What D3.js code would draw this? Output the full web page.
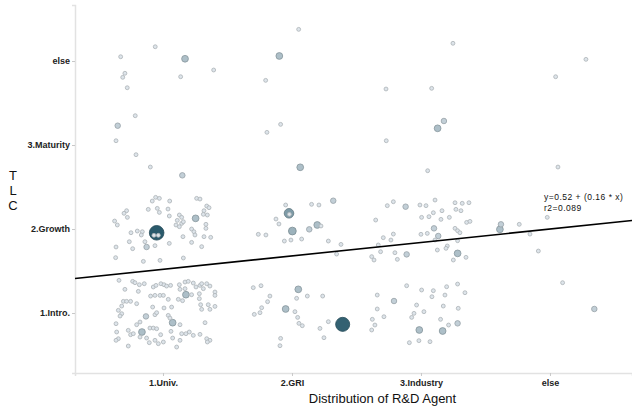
<!DOCTYPE html>
<html>
<head>
<meta charset="utf-8">
<script src="https://cdn.jsdelivr.net/npm/d3@7"></script>
<style>
body { margin: 0; background: #fff; }
svg text { font-family: "Liberation Sans", Arial, sans-serif; }
.tick text { font-size: 9px; font-weight: bold; fill: #222; }
.tick line { stroke: #c8c8c8; }
.domain { stroke: #e2e2e2; stroke-width: 1.5; }
</style>
</head>
<body>
<svg id="chart" width="632" height="410"></svg>
<script>
'use strict';

const xCategories = ["1.Univ.", "2.GRI", "3.Industry", "else"];
const yCategories = ["1.Intro.", "2.Growth", "3.Maturity", "else"];

// [yIndex, x jitter, y jitter, count]
const univPoints = [
	[0,-0.341,0.389,1],[0,-0.235,0.377,1],[0,-0.217,0.361,1],[0,-0.183,0.337,1],[0,-0.145,0.349,1],
	[0,-0.075,0.310,1],[0,-0.054,0.329,1],[0,-0.016,0.349,1],[0,0.008,0.337,1],[0,0.028,0.321,1],
	[0,0.059,0.329,1],[0,0.127,0.337,1],[0,0.171,0.369,1],[0,0.196,0.377,1],[0,0.235,0.357,1],
	[0,0.256,0.310,1],[0,0.287,0.329,1],[0,0.300,0.349,1],[0,0.339,0.349,1],[0,0.364,0.321,1],
	[0,-0.295,0.282,1],[0,-0.191,0.258,1],[0,-0.096,0.202,1],[0,-0.062,0.210,1],[0,-0.023,0.210,1],
	[0,0.003,0.210,1],[0,0.178,0.218,3],[0,0.222,0.218,1],[0,0.132,0.282,1],[0,0.171,0.290,1],
	[0,0.282,0.230,1],[0,0.313,0.290,1],[0,0.403,0.250,1],[0,0.403,0.210,1],[0,0.041,0.163,1],
	[0,0.119,0.163,1],[0,0.152,0.147,1],[0,0.282,0.171,1],[0,-0.307,0.139,1],[0,-0.282,0.139,1],
	[0,-0.251,0.139,1],[0,-0.204,0.111,1],[0,-0.320,0.083,1],[0,-0.346,0.032,1],[0,-0.080,0.071,1],
	[0,0.008,0.060,1],[0,0.067,0.071,1],[0,0.292,0.099,1],[0,0.351,0.099,1],[0,0.403,0.079,1],
	[0,0.300,0.044,1],[0,0.364,0.044,1],[0,-0.320,-0.008,1],[0,-0.333,-0.036,1],[0,-0.132,-0.040,2],
	[0,-0.062,-0.020,1],[0,-0.049,0.004,1],[0,0.041,-0.028,1],[0,0.054,-0.060,1],[0,-0.364,-0.127,1],
	[0,-0.204,-0.139,1],[0,-0.178,-0.107,1],[0,0.075,-0.115,3],[0,0.132,-0.139,1],[0,0.326,-0.115,1],
	[0,-0.359,-0.226,1],[0,-0.269,-0.206,1],[0,-0.101,-0.179,1],[0,-0.075,-0.179,1],[0,-0.049,-0.187,1],
	[0,-0.018,-0.258,1],[0,0.062,-0.218,1],[0,-0.163,-0.226,3],[0,-0.251,-0.258,1],[0,-0.230,-0.246,1],
	[0,0.145,-0.246,1],[0,0.178,-0.246,1],[0,0.204,-0.226,1],[0,0.235,-0.266,1],[0,0.287,-0.254,1],
	[0,-0.178,-0.286,1],[0,-0.346,-0.306,1],[0,-0.127,-0.298,1],[0,-0.106,-0.353,1],[0,-0.062,-0.325,1],
	[0,0.003,-0.345,1],[0,0.075,-0.298,1],[0,0.132,-0.325,1],[0,0.339,-0.306,1],[0,0.364,-0.325,1],
	[0,0.344,-0.345,1],[0,-0.269,-0.393,1],[0,-0.036,-0.365,1],[0,0.106,-0.405,1],[0,-0.364,-0.325,1],
	[1,-0.057,0.377,1],[1,-0.028,0.365,1],[1,0.261,0.365,1],[1,0.287,0.357,1],[1,-0.083,0.333,1],
	[1,0.052,0.333,1],[1,-0.282,0.218,1],[1,-0.302,0.187,1],[1,-0.276,0.139,1],[1,-0.114,0.234,1],
	[1,-0.044,0.246,1],[1,-0.028,0.198,1],[1,0.039,0.238,1],[1,-0.375,0.095,1],[1,-0.354,0.048,1],
	[1,0.049,0.155,1],[1,0.127,0.167,1],[1,0.145,0.139,1],[1,0.111,0.103,1],[1,0.145,0.067,1],
	[1,0.101,0.048,1],[1,0.127,0.028,1],[1,0.158,0.087,1],[1,0.253,0.127,3],[1,0.339,0.274,1],
	[1,0.357,0.254,1],[1,0.318,0.218,1],[1,0.313,0.175,1],[1,0.344,0.167,1],[1,0.333,0.056,1],
	[1,0.333,0.008,1],[1,-0.199,-0.024,1],[1,-0.160,-0.032,1],[1,-0.168,-0.071,1],[1,-0.248,-0.044,1],
	[1,-0.049,-0.045,14],[1,-0.070,-0.075,1],[1,-0.036,-0.075,1],[1,0.155,-0.091,1],[1,0.222,0,1],
	[1,0.240,-0.032,1],[1,0.248,-0.071,1],[1,0.318,-0.091,1],[1,0.370,-0.099,1],[1,-0.261,-0.151,1],
	[1,-0.140,-0.151,1],[1,0.049,-0.171,1],[1,0.222,-0.159,1],[1,-0.364,-0.214,1],[1,-0.235,-0.234,1],
	[1,-0.127,-0.214,2],[1,-0.062,-0.198,1],[1,0.300,-0.210,1],[1,-0.367,-0.341,1],[1,-0.152,-0.385,1],
	[1,-0.023,-0.373,1],[1,0.158,-0.345,1],
	[2,-0.215,0.349,1],[2,-0.351,0.230,2],[2,-0.364,0.051,1],[2,-0.209,-0.115,1],[2,-0.098,-0.262,1],
	[2,0.150,-0.361,2],
	[3,-0.060,0.170,1],[3,-0.328,0.051,1],[3,0.171,0.027,3],[3,0.393,-0.107,1],[3,-0.295,-0.146,1],
	[3,-0.312,-0.194,1],[3,0.137,-0.187,1],[3,-0.277,-0.318,1]
];

const griPoints = [
	[0,-0.300,0.302,1],[0,-0.240,0.325,1],[0,-0.171,0.202,1],[0,-0.189,0.135,1],[0,0.049,0.282,3],
	[0,0.036,0.175,1],[0,0.119,0.202,1],[0,0.238,0.202,1],[0,-0.235,0.063,1],[0,-0.248,0.004,1],
	[0,-0.292,-0.016,1],[0,-0.049,0.048,3],[0,0.023,0.016,1],[0,0.044,-0.052,1],[0,0.054,-0.123,1],
	[0,0.080,-0.151,1],[0,0.217,-0.183,1],[0,0.282,-0.103,1],[0,0.393,-0.135,13],[0,0.248,-0.294,1],
	[0,-0.088,-0.302,1],[0,-0.093,-0.389,1],
	[1,-0.049,0.286,1],[1,-0.023,0.187,6],[1,-0.020,0.175,1],[1,0.152,0.294,1],[1,0.209,0.286,1],
	[1,0.320,0.337,2],[1,-0.124,0.119,1],[1,-0.101,0.060,1],[1,0.003,-0.024,4],[1,0.196,0.048,3],
	[1,0.225,0.036,1],[1,0.134,-0.004,2],[1,-0.261,-0.063,1],[1,-0.202,-0.071,1],[1,-0.059,-0.143,1],
	[1,-0.008,-0.131,1],[1,0.075,-0.119,1],[1,0.282,-0.143,1],[1,0.380,-0.183,1],[1,0.346,-0.298,1],
	[2,-0.088,0.246,1],[2,-0.194,0.151,1],[2,0.064,-0.265,3],
	[3,0.052,0.377,1],[3,-0.098,0.060,3],[3,-0.204,-0.230,1]
];

const industryPoints = [
	[0,-0.111,0.325,1],[0,0.005,0.274,1],[0,0.096,0.266,1],[0,0.199,0.313,1],[0,0.284,0.345,1],
	[0,-0.339,0.214,1],[0,-0.209,0.143,2],[0,0.085,0.194,1],[0,0.186,0.214,1],[0,0.341,0.242,1],
	[0,-0.034,0.095,1],[0,0.173,0.083,1],[0,0.289,0.056,1],[0,-0.339,0.048,1],[0,0.023,0.016,1],
	[0,-0.054,-0.004,1],[0,-0.072,-0.052,1],[0,-0.287,-0.044,1],[0,-0.377,-0.075,1],[0,-0.357,-0.143,1],
	[0,-0.382,-0.202,1],[0,0.152,-0.075,1],[0,0.214,-0.143,1],[0,0.284,-0.123,2],[0,-0.013,-0.202,3],
	[0,0.168,-0.214,3],[0,-0.090,-0.353,1],[0,-0.016,-0.329,1],[0,0.070,-0.341,1],
	[1,-0.261,0.278,1],[1,-0.214,0.325,1],[1,-0.119,0.266,2],[1,-0.008,0.286,1],[1,0.039,0.278,1],
	[1,0.109,0.345,1],[1,0.264,0.313,1],[1,0.320,0.306,1],[1,0.372,0.313,1],[1,-0.351,0.107,1],
	[1,0.005,0.139,1],[1,0.062,0.147,1],[1,0.096,0.194,1],[1,0.163,0.218,1],[1,0.155,0.115,1],
	[1,0.220,0.139,1],[1,0.271,0.234,1],[1,0.310,0.218,1],[1,0.354,0.079,1],[1,0.380,0.091,1],
	[1,-0.292,-0.103,1],[1,-0.214,-0.060,1],[1,-0.233,-0.131,1],[1,0,-0.063,1],[1,0.049,-0.052,1],
	[1,0.101,0.008,2],[1,0.134,-0.083,2],[1,0.264,0.008,1],[1,0.284,-0.020,1],[1,0.302,-0.044,1],
	[1,0.109,-0.131,1],[1,0.204,-0.202,1],[1,0.194,-0.230,1],[1,0.284,-0.139,1],[1,-0.331,-0.190,1],
	[1,-0.382,-0.329,1],[1,-0.364,-0.369,1],[1,-0.313,-0.270,1],[1,-0.202,-0.282,1],[1,-0.183,-0.361,1],
	[1,-0.111,-0.302,2],[1,0.127,-0.250,1],[1,0.284,-0.290,3],[1,0.349,-0.337,1],[1,0.251,-0.369,1],
	[2,0.178,0.286,2],[2,0.129,0.199,3],[2,-0.269,0.051,1],[2,0.052,-0.306,1],
	[3,0.248,0.211,1],[3,-0.271,-0.333,1],[3,0.083,-0.325,1]
];

const elsePoints = [
	[0,0.098,0.361,1],[0,0.344,0.048,2],
	[1,-0.380,0.056,2],[1,-0.388,-0.004,3],[1,-0.238,0.056,1],[1,-0.155,-0.060,1],[1,-0.021,0.139,1],
	[1,-0.090,-0.262,1],
	[2,0.062,-0.262,1],
	[3,0.279,0.020,1],[3,0.044,-0.187,1]
];

const fitIntercept = 0.52;
const fitSlope = 0.16;
const fitR2 = 0.089;

const svg = d3.select("#chart");
const margin = {top: 5, right: 0, bottom: 37, left: 75};
const width = +svg.attr("width") - margin.left - margin.right;
const height = +svg.attr("height") - margin.top - margin.bottom;
const g = svg.append("g").attr("transform", "translate(" + margin.left + "," + margin.top + ")");

let x = d3.scaleLinear().domain([-0.682, 3.636]).range([0, width]);
let y = d3.scaleLinear().domain([-0.714, 3.667]).range([height, 0]);
let r = d3.scaleSqrt().domain([0, 14]).range([0, 7.3]);
let colour = d3.scaleSqrt().domain([1, 14]).range(["#dde4ea", "#2a5a6c"]);

let points = [];
[univPoints, griPoints, industryPoints, elsePoints].forEach(function (list, xi) {
	for (const p of list) {
		points.push({x: xi + p[1], y: p[0] + p[2], n: p[3]});
	}
});
// big circles first so small ones sit on top
points.sort((a, b) => b.n - a.n);

g.append("g")
	.attr("transform", "translate(0," + height + ")")
	.call(d3.axisBottom(x).tickValues([0, 1, 2, 3]).tickSize(3).tickPadding(4)
		.tickFormat(function (d) { return xCategories[d]; }));

g.append("g")
	.call(d3.axisLeft(y).tickValues([0, 1, 2, 3]).tickSize(3).tickPadding(2)
		.tickFormat(function (d) { return yCategories[d]; }));

g.selectAll(".pt")
	.data(points)
	.enter().append("circle")
	.attr("class", "pt")
	.attr("cx", function (d) { return x(d.x); })
	.attr("cy", function (d) { return y(d.y); })
	.attr("r", function (d) { return r(d.n); })
	.attr("fill", function (d) { return colour(d.n); })
	.attr("stroke", function (d) { return d3.color(colour(d.n)).darker(0.7); })
	.attr("stroke-width", 0.8);

let fit = x.domain().map(function (v) { return [v, fitIntercept + fitSlope * v]; });
g.append("path")
	.datum(fit)
	.attr("fill", "none")
	.attr("stroke", "#000")
	.attr("stroke-width", 1.6)
	.attr("d", d3.line().x(d => x(d[0])).y(d => y(d[1])));

let fitText = g.append("g")
	.attr("font-size", "8.5px")
	.attr("letter-spacing", "0.5px")
	.attr("fill", "#111");
fitText.append("text")
	.attr("x", x(3) - 6)
	.attr("y", y(1.34))
	.text("y=" + fitIntercept + " + (" + fitSlope + " * x)");
fitText.append("text")
	.attr("x", x(3) - 6)
	.attr("y", y(1.22))
	.text("r2=" + fitR2);

svg.append("text")
	.attr("x", margin.left + width / 2 + 29)
	.attr("y", 403)
	.attr("text-anchor", "middle")
	.attr("font-size", "13px")
	.attr("fill", "#111")
	.text("Distribution of R&D Agent");

svg.append("text")
	.attr("x", 13)
	.attr("y", 180)
	.attr("text-anchor", "middle")
	.attr("font-size", "13px")
	.attr("fill", "#111")
	.selectAll("tspan")
	.data(["T", "L", "C"])
	.enter().append("tspan")
	.attr("x", 13)
	.attr("dy", (d, i) => i === 0 ? 0 : 15)
	.text(d => d);
</script>
</body>
</html>
